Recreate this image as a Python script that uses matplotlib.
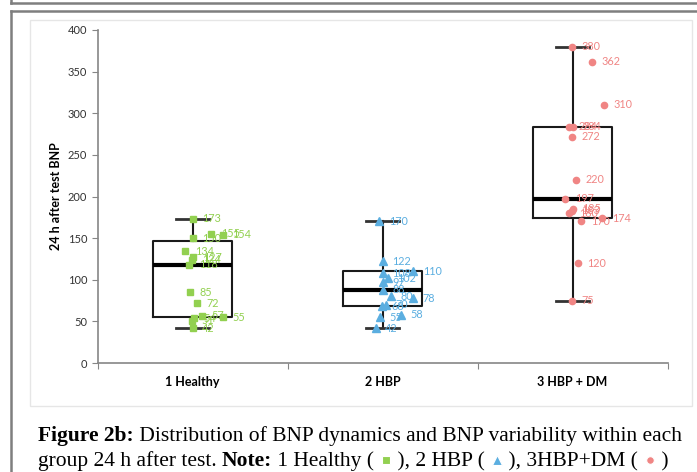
import matplotlib
matplotlib.use('Agg')
import matplotlib.pyplot as plt
from matplotlib.lines import Line2D
from matplotlib.patches import Rectangle

# --- data ---
groups = ['1 Healthy', '2 HBP', '3 HBP + DM']

healthy = [173, 155, 154, 150, 134, 127, 124, 118, 85, 72, 57, 55, 54, 51, 42]
healthy_jit = [0, 18.5, 30, 0, -7.5, 0.5, -0.5, -3.5, -2.5, 4.5, 9, 30.5, 1.5, -0.5, 0]

hbp = [170, 122, 108, 110, 102, 97, 88, 80, 78, 70, 68, 58, 55, 42]
hbp_jit = [-3.5, 0, 0, 30.5, 5, 0, 0.5, 8.5, 30.5, 3.5, -0.5, 18.5, -2.5, -7]

hbp_dm = [380, 362, 310, 284, 284, 272, 220, 197, 185, 183, 180, 174, 170, 120, 75]
hbp_dm_jit = [-0.5, 19, 31.5, -3.5, 0, -0.5, 3, -7.5, 0, -1, -3.5, 29.5, 8.5, 5, -0.5]

# box statistics (whisker low, Q1, median, Q3, whisker high)
box_low = [42, 42, 75]
box_q1 = [55, 68, 174]
box_med = [118, 88, 197]
box_q3 = [146, 110, 284]
box_high = [173, 170, 380]

colors = ['#92D050', '#5BAEE0', '#F08584']
markers = ['s', '^', 'o']
msizes = [4.5, 5.5, 4.5]

W, H = 697, 472
fig = plt.figure(figsize=(W / 100, H / 100), dpi=100)

# frames around the figure
def hline(y, x0, x1, **kw):
    fig.add_artist(Line2D([x0 / W, x1 / W], [1 - y / H, 1 - y / H], **kw))

def vline(x, y0, y1, **kw):
    fig.add_artist(Line2D([x / W, x / W], [1 - y0 / H, 1 - y1 / H], **kw))

hline(3, 11, W, color='#7f7f7f', lw=1.8)
vline(11, 0, 3, color='#7f7f7f', lw=1.8)
hline(11, 11, W, color='#7f7f7f', lw=1.8)
vline(11, 11, H, color='#7f7f7f', lw=1.8)
fig.add_artist(Rectangle((30 / W, 1 - 406 / H), (692 - 30) / W, (406 - 20) / H,
                         fill=False, ec='#e6e6e6', lw=1.0, transform=fig.transFigure))

ax = fig.add_axes([97.5 / W, 1 - 363 / H, (667.5 - 97.5) / W, (363 - 30) / H])
ax.set_xlim(0.5, 3.5)
ax.set_ylim(0, 400)

px = 1 / 190.0  # one pixel in x data units
stats = []
for i in range(3):
    stats.append(dict(whislo=box_low[i], q1=box_q1[i], med=box_med[i],
                      q3=box_q3[i], whishi=box_high[i], fliers=[]))
ax.bxp(stats, positions=[1, 2, 3], widths=0.416, showfliers=False,
       boxprops=dict(color='#1a1a1a', lw=1.5),
       medianprops=dict(color='black', lw=3),
       whiskerprops=dict(color='#1a1a1a', lw=1.5),
       capprops=dict(color='#333333', lw=2),
       capwidths=0.17, zorder=2)

series = [(healthy, healthy_jit), (hbp, hbp_jit), (hbp_dm, hbp_dm_jit)]
for i, (vals, jit) in enumerate(series):
    xs = [i + 1 + j * px for j in jit]
    ax.plot(xs, vals, ls='none', marker=markers[i], ms=msizes[i],
            color=colors[i], mec=colors[i], zorder=3)
    for x, v in zip(xs, vals):
        ax.annotate(str(v), (x, v), xytext=(7, 0), textcoords='offset points',
                    va='center', ha='left', fontsize=7.8, color=colors[i],
                    family=['Lato', 'DejaVu Sans'], zorder=4)

for s in ['top', 'right']:
    ax.spines[s].set_visible(False)
for s in ['left', 'bottom']:
    ax.spines[s].set_color('#868686')
    ax.spines[s].set_linewidth(1.2)

ax.set_yticks(range(0, 401, 50))
ax.tick_params(axis='y', length=4, color='#868686', labelsize=8, labelcolor='#333333')
for t in ax.get_yticklabels():
    t.set_family(['Lato', 'DejaVu Sans'])
ax.set_xticks([0.5, 1.5, 2.5, 3.5])
ax.set_xticklabels([])
ax.tick_params(axis='x', length=4, color='#868686')
for i, g in enumerate(groups):
    ax.text(i + 1, -23, g, ha='center', va='center', fontsize=9, fontweight='bold',
            family=['Lato', 'DejaVu Sans'])

ax.set_ylabel('24 h after test BNP', fontsize=9, fontweight='bold',
              family=['Lato', 'DejaVu Sans'], labelpad=4)

# caption with inline marker symbols
fig.canvas.draw()
rend = fig.canvas.get_renderer()
cap_font = ['Liberation Serif', 'DejaVu Serif']
cap_size = 15.5

def put(x, y, s, bold=False):
    t = fig.text(x / W, 1 - y / H, s, fontsize=cap_size, family=cap_font,
                 fontweight='bold' if bold else 'normal', ha='left', va='baseline')
    return t.get_window_extent(rend).x1

x = put(38, 441, 'Figure 2b:', True)
put(x, 441, ' Distribution of BNP dynamics and BNP variability within each')

x = put(38, 466, 'group 24 h after test. ')
x = put(x, 466, 'Note:', True)
pieces = [' 1 Healthy (', ' ), 2 HBP (', ' ), 3HBP+DM (']
for i, p in enumerate(pieces):
    x = put(x, 466, p)
    mx = x + 12
    fig.add_artist(Line2D([mx / W], [1 - 460 / H], marker=markers[i], ms=msizes[i] + 1,
                          color=colors[i], mec='white', mew=0.8, ls='none'))
    x = x + 18
put(x, 466, ' )')

fig.savefig('out.png', dpi=100)
